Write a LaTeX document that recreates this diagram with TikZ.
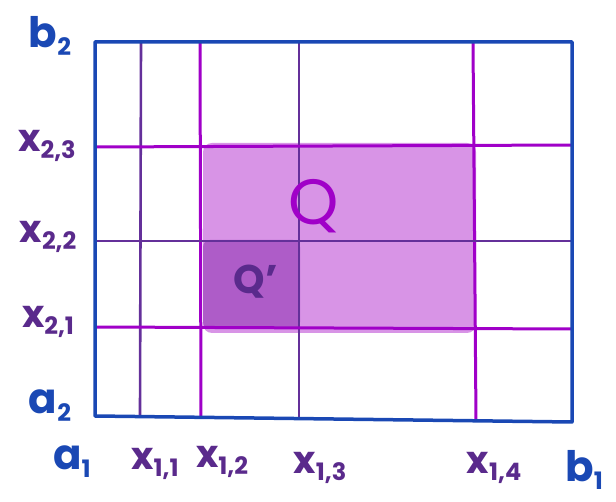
\documentclass[tikz,border=0pt]{standalone}
\usepackage{fontspec}
\setmainfont{Poppins}
\definecolor{edgeblue}{HTML}{1A48B4}
\definecolor{magline}{HTML}{A000C8}
\definecolor{darkpur}{HTML}{64309A}
\definecolor{labpur}{HTML}{5A2A8C}
\definecolor{qfill}{HTML}{D894E6}
\definecolor{qpfill}{HTML}{AE5CC8}
\newcommand\mylab[2]{#1\raisebox{-0.35ex}{\fontsize{24}{24}\selectfont #2}}
\tikzset{
  outer/.style={draw=edgeblue, line width=3.5pt, line join=round},
  magl/.style={draw=magline, line width=3pt},
  purl/.style={draw=darkpur, line width=2.6pt},
  lblp/.style={text=labpur, font=\fontsize{38}{38}\selectfont\bfseries, inner sep=0pt},
  lblb/.style={text=edgeblue, font=\fontsize{42}{42}\selectfont\bfseries, inner sep=0pt},
}
\begin{document}
\begin{tikzpicture}[x=1pt,y=-1pt]
\useasboundingbox (0,0) rectangle (616,502);
% shaded regions
\fill[qfill, rounded corners=9pt] (203,143) rectangle (476,333);
\fill[qpfill, rounded corners=7pt] (203,240) rectangle (300,329);
% vertical grid lines
\draw[purl] (141,42) -- (140,416);
\draw[magl] (200,42) -- (201,417);
\draw[purl] (299,42) -- (299,418);
\draw[magl] (473,42) -- (476,421);
% horizontal grid lines
\draw[magl] (95,147) -- (572,145);
\draw[purl] (95,241) -- (572,241);
\draw[magl] (95,327) -- (572,329);
% outer frame
\draw[outer] (95,42) -- (572,42) -- (572,422) -- (95,416) -- cycle;
% labels
\node[lblb] (b2) at (50,36) {\mylab{b}{2}};
\node[lblb] (a2) at (50,406) {\mylab{a}{2}};
\node[lblb] (a1) at (72,462) {\mylab{a}{1}};
\node[lblb] (b1) at (584,470) {\mylab{b}{1}};
\node[lblp] (x23) at (47,146) {\mylab{x}{2,3}};
\node[lblp] (x22) at (48,237) {\mylab{x}{2,2}};
\node[lblp] (x21) at (48,322) {\mylab{x}{2,1}};
\node[lblp] (x11) at (155,464) {\mylab{x}{1,1}};
\node[lblp] (x12) at (222,462) {\mylab{x}{1,2}};
\node[lblp] (x13) at (320,468) {\mylab{x}{1,3}};
\node[lblp] (x14) at (494,468) {\mylab{x}{1,4}};
\node[text=magline, font=\fontsize{64}{64}\selectfont\mdseries, inner sep=0pt] (Q) at (314,206) {Q};
\node[text=labpur, font=\fontsize{40}{40}\selectfont\bfseries, inner sep=0pt] (Qp) at (256,282) {Q’};
\end{tikzpicture}
\end{document}
